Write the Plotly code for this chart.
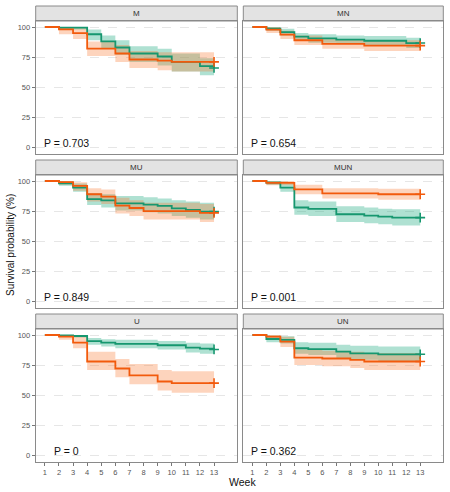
import plotly.graph_objects as go

# ---------------- data ----------------
PANELS = ["M", "MN", "MU", "MUN", "U", "UN"]
P_VALUES = ["0.703", "0.654", "0.849", "0.001", "0", "0.362"]
WEEK_TICKS = list(range(1, 14))
SURV_TICKS = [0, 25, 50, 75, 100]

# M
M_green_time = [1, 2, 4, 5, 6, 7, 9, 10, 12, 13]
M_green_surv = [100, 99.5, 94, 88, 83, 78, 75.5, 71, 67.5, 66]
M_green_low = [100, 98, 89, 82, 77, 71, 68, 63, 60, 59]
M_green_up = [100, 100, 98, 93, 89, 84, 82, 78, 74, 73]
M_orange_time = [1, 2, 3, 4, 6, 7, 9, 10, 13]
M_orange_surv = [100, 98, 95, 82, 78, 73, 72, 71, 71]
M_orange_low = [100, 94, 90, 76, 71, 66, 64, 63, 63]
M_orange_up = [100, 100, 99, 88, 85, 80, 79, 79, 79]

# MN
MN_green_time = [1, 2, 3, 4, 5, 7, 9, 12, 13]
MN_green_surv = [100, 98.6, 95.8, 92, 90.6, 89.5, 88.6, 86.7, 86.7]
MN_green_low = [100, 97, 93, 88.5, 87, 86, 85, 82.5, 82.5]
MN_green_up = [100, 100, 98.5, 95, 94, 93, 92.5, 91, 91]
MN_orange_time = [1, 2, 3, 4, 6, 9, 13]
MN_orange_surv = [100, 97.8, 93.6, 89, 86, 84.5, 84.5]
MN_orange_low = [100, 95, 90, 85, 82, 80, 80]
MN_orange_up = [100, 100, 97, 93, 90, 89, 89]

# MU
MU_green_time = [1, 2, 3, 4, 5, 6, 8, 9, 10, 11, 12, 13]
MU_green_surv = [100, 98, 94.5, 85, 84, 81.5, 80.4, 79.3, 77.3, 76, 74.6, 74.6]
MU_green_low = [100, 96, 91, 80, 78, 75.5, 74, 73, 71, 69.5, 68, 68]
MU_green_up = [100, 100, 98, 90, 89, 87.5, 86.5, 85.5, 84, 83, 82, 82]
MU_orange_time = [1, 2, 3, 4, 5, 6, 7, 8, 12, 13]
MU_orange_surv = [100, 99, 96, 89, 87, 79.6, 77.6, 75, 73.5, 73.5]
MU_orange_low = [100, 97, 92, 83, 81, 73, 71, 68, 66, 66]
MU_orange_up = [100, 100, 99, 94, 93, 86, 84, 82, 81, 81]

# MUN
MUN_green_time = [1, 2, 3, 4, 5, 7, 9, 10, 11, 13]
MUN_green_surv = [100, 98.6, 94.5, 78, 76.8, 72.4, 71.3, 70.4, 69.6, 69.6]
MUN_green_low = [100, 97, 91, 72, 71, 66, 65, 64, 63, 63]
MUN_green_up = [100, 100, 98, 84, 83, 79, 78, 77, 76.5, 76.5]
MUN_orange_time = [1, 2, 4, 6, 10, 13]
MUN_orange_surv = [100, 98.5, 93, 89.8, 89, 89]
MUN_orange_low = [100, 96.5, 89, 85.5, 84.5, 84.5]
MUN_orange_up = [100, 100, 97, 94, 93.5, 93.5]

# U
U_green_time = [1, 2, 3, 4, 5, 6, 9, 11, 12, 13]
U_green_surv = [100, 99.7, 99.2, 95, 93.7, 92.6, 91.5, 89.5, 88.7, 88]
U_green_low = [100, 99, 98, 92, 90.5, 89, 88, 85.5, 84.5, 84]
U_green_up = [100, 100, 100, 97.5, 96.5, 96, 95, 93.5, 93, 92.5]
U_orange_time = [1, 2, 3, 4, 6, 7, 9, 10, 13]
U_orange_surv = [100, 98.6, 93.7, 78, 72.2, 66.4, 61.4, 60, 60]
U_orange_low = [100, 96, 89, 71, 65, 59, 54, 52, 52]
U_orange_up = [100, 100, 98.5, 86, 80, 76, 71, 70, 70]

# UN
UN_green_time = [1, 2, 3, 4, 5, 7, 8, 10, 13]
UN_green_surv = [100, 96.7, 96, 89, 88.2, 86.2, 84.8, 84, 84]
UN_green_low = [100, 94, 93, 84.5, 83.5, 81, 79.5, 78.5, 78.5]
UN_green_up = [100, 99.5, 99, 94, 93.5, 92, 91, 90.5, 90.5]
UN_orange_time = [1, 2, 3, 4, 6, 8, 9, 13]
UN_orange_surv = [100, 98.6, 94.5, 81.3, 80.5, 79.3, 78, 78]
UN_orange_low = [100, 96, 90, 75, 74, 72.5, 71, 71]
UN_orange_up = [100, 100, 98.5, 88, 87, 86, 85, 85]

GREEN = {
    "M": (M_green_time, M_green_surv, M_green_low, M_green_up),
    "MN": (MN_green_time, MN_green_surv, MN_green_low, MN_green_up),
    "MU": (MU_green_time, MU_green_surv, MU_green_low, MU_green_up),
    "MUN": (MUN_green_time, MUN_green_surv, MUN_green_low, MUN_green_up),
    "U": (U_green_time, U_green_surv, U_green_low, U_green_up),
    "UN": (UN_green_time, UN_green_surv, UN_green_low, UN_green_up),
}
ORANGE = {
    "M": (M_orange_time, M_orange_surv, M_orange_low, M_orange_up),
    "MN": (MN_orange_time, MN_orange_surv, MN_orange_low, MN_orange_up),
    "MU": (MU_orange_time, MU_orange_surv, MU_orange_low, MU_orange_up),
    "MUN": (MUN_orange_time, MUN_orange_surv, MUN_orange_low, MUN_orange_up),
    "U": (U_orange_time, U_orange_surv, U_orange_low, U_orange_up),
    "UN": (UN_orange_time, UN_orange_surv, UN_orange_low, UN_orange_up),
}

# ---------------- style ----------------
W, H = 450, 492
GREEN_LINE = "#16976F"
GREEN_FILL = "rgba(27,168,126,0.35)"
ORANGE_LINE = "#F25A0C"
ORANGE_FILL = "rgba(250,120,50,0.32)"
BORDER = "#8A8A8A"
FONT = "Liberation Sans, Arial, sans-serif"

COL_X = [(35.7, 237.3), (243.3, 443.3)]
ROW_TOP = [6, 160, 314]
STRIP_H = 15
PLOT_H = 133

fig = go.Figure()
layout = {}
shapes = []
annotations = []

for i, name in enumerate(PANELS):
    r, c = divmod(i, 2)
    k = i + 1
    xs = "x" if k == 1 else f"x{k}"
    ys = "y" if k == 1 else f"y{k}"
    x0p, x1p = COL_X[c]
    strip_top = ROW_TOP[r]
    plot_top = strip_top + STRIP_H
    plot_bot = plot_top + PLOT_H
    xdom = [x0p / W, x1p / W]
    ydom = [1 - plot_bot / H, 1 - plot_top / H]

    for grp, lc, fc in ((GREEN, GREEN_LINE, GREEN_FILL), (ORANGE, ORANGE_LINE, ORANGE_FILL)):
        t, s, lo, up = grp[name]
        fig.add_trace(go.Scatter(x=t, y=up, mode="lines", line=dict(width=0, shape="hv"),
                                 xaxis=xs, yaxis=ys, showlegend=False, hoverinfo="skip"))
        fig.add_trace(go.Scatter(x=t, y=lo, mode="lines", line=dict(width=0, shape="hv"),
                                 fill="tonexty", fillcolor=fc,
                                 xaxis=xs, yaxis=ys, showlegend=False, hoverinfo="skip"))
    for grp, lc in ((GREEN, GREEN_LINE), (ORANGE, ORANGE_LINE)):
        t, s, lo, up = grp[name]
        fig.add_trace(go.Scatter(x=t, y=s, mode="lines", line=dict(width=1.8, color=lc, shape="hv"),
                                 xaxis=xs, yaxis=ys, showlegend=False))
        fig.add_trace(go.Scatter(x=[t[-1]], y=[s[-1]], mode="markers",
                                 marker=dict(symbol="cross-thin", size=7, line=dict(width=1.6, color=lc)),
                                 xaxis=xs, yaxis=ys, showlegend=False))

    xa = dict(domain=xdom, range=[0.35, 14.65], anchor=ys, showgrid=False, zeroline=False,
              showline=True, mirror=True, linecolor=BORDER, linewidth=1,
              tickvals=WEEK_TICKS, ticktext=[str(v) for v in WEEK_TICKS],
              showticklabels=(r == 2), ticks="outside" if r == 2 else "",
              ticklen=3, tickcolor="#777", tickfont=dict(size=7.5, color="#555", family=FONT))
    ya = dict(domain=ydom, range=[-5.5, 105], anchor=xs, showgrid=True, gridcolor="#E6E6E6",
              griddash="dash", gridwidth=0.8, zeroline=False,
              showline=True, mirror=True, linecolor=BORDER, linewidth=1,
              tickvals=SURV_TICKS, ticktext=[str(v) for v in SURV_TICKS],
              showticklabels=(c == 0), ticks="outside" if c == 0 else "",
              ticklen=3, tickcolor="#777", tickfont=dict(size=7.5, color="#555", family=FONT))
    layout["xaxis" if k == 1 else f"xaxis{k}"] = xa
    layout["yaxis" if k == 1 else f"yaxis{k}"] = ya

    # strip
    shapes.append(dict(type="rect", xref="paper", yref="paper",
                       x0=xdom[0], x1=xdom[1], y0=1 - plot_top / H, y1=1 - strip_top / H,
                       fillcolor="#E3E3E3", line=dict(color=BORDER, width=1), layer="below"))
    annotations.append(dict(x=(xdom[0] + xdom[1]) / 2, y=1 - (strip_top + STRIP_H / 2) / H,
                            xref="paper", yref="paper", text=name, showarrow=False,
                            xanchor="center", yanchor="middle",
                            font=dict(size=8, color="#333", family=FONT)))
    # p value
    annotations.append(dict(x=2.5, y=3.5, xref=xs, yref=ys, text=f"P = {P_VALUES[i]}",
                            showarrow=False, xanchor="center", yanchor="middle",
                            font=dict(size=10.5, color="#111", family=FONT)))

annotations.append(dict(x=242 / W, y=1 - 482 / H, xref="paper", yref="paper", text="Week",
                        showarrow=False, xanchor="center", yanchor="middle",
                        font=dict(size=10.5, color="#111", family=FONT)))
annotations.append(dict(x=10 / W, y=1 - 245 / H, xref="paper", yref="paper",
                        text="Survival probability (%)", textangle=-90, showarrow=False,
                        xanchor="center", yanchor="middle",
                        font=dict(size=10, color="#111", family=FONT)))

fig.update_layout(width=W, height=H, margin=dict(l=0, r=0, t=0, b=0),
                  paper_bgcolor="white", plot_bgcolor="white",
                  shapes=shapes, annotations=annotations, **layout)

fig.write_html("out.html")
